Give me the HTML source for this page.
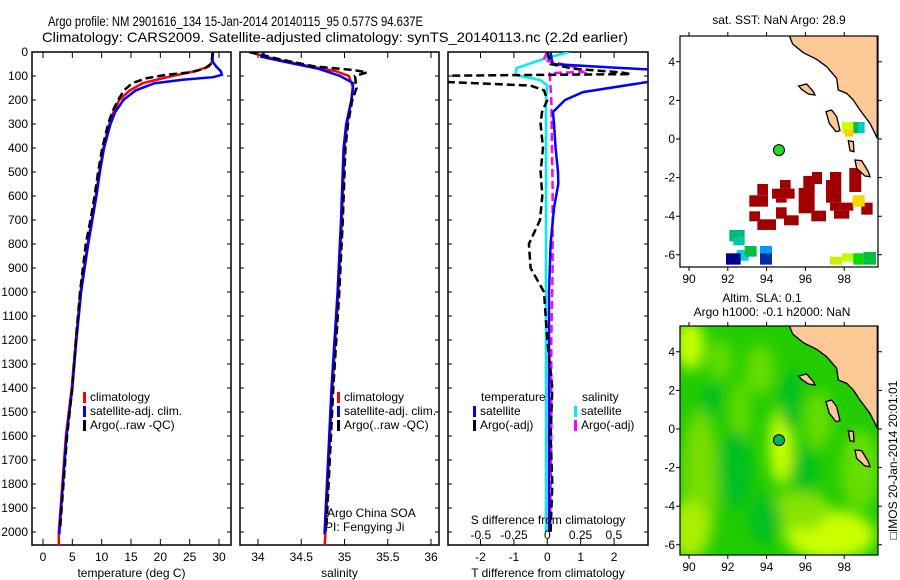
<!DOCTYPE html>
<html><head><meta charset="utf-8"><style>
body{margin:0;background:#fff;}
svg{display:block;font-family:"Liberation Sans",sans-serif;}
text{font-size:12px;fill:#000;}
</style></head><body>
<svg id="fig" width="900" height="580" viewBox="0 0 900 580">
<defs>
<clipPath id="c1"><rect x="32" y="52" width="199" height="493"/></clipPath>
<clipPath id="c2"><rect x="240" y="52" width="199" height="493"/></clipPath>
<clipPath id="c3"><rect x="448" y="52" width="200" height="493"/></clipPath>
<clipPath id="cm"><rect x="680" y="36" width="198" height="231"/></clipPath>
<clipPath id="cm2"><rect x="680" y="326" width="198" height="229"/></clipPath>
<filter id="blur"><feGaussianBlur stdDeviation="7"/></filter>
</defs>
<text x="48" y="26" textLength="375" lengthAdjust="spacingAndGlyphs" style="font-size:14px">Argo profile: NM 2901616_134 15-Jan-2014 20140115_95 0.577S 94.637E</text>
<text x="42" y="42" textLength="586" lengthAdjust="spacingAndGlyphs" style="font-size:14px">Climatology: CARS2009. Satellite-adjusted climatology: synTS_20140113.nc (2.2d earlier)</text>
<g id="g1"></g>
<g id="g2"></g>
<g id="g3"></g>
<g id="gm1"></g>
<g id="gm2"></g>
<text transform="translate(897,460) rotate(-90)" text-anchor="middle">□IMOS 20-Jan-2014 20:01:01</text>
</svg>
<script>
const depthTicks=[0,100,200,300,400,500,600,700,800,900,1000,1100,1200,1300,1400,1500,1600,1700,1800,1900,2000];
const tempTicks=[0,5,10,15,20,25,30];
const salTicks=[34,34.5,35,35.5,36];
const dtTicks=[-2,-1,0,1,2];
const dsTicks=[-0.5,-0.25,0,0.25,0.5];
const dsTickLabels=["-0.5","-0.25","0","0.25","0.5"];
// temperature profiles [depth, value]
const tClimD=[0,40,60,80,100,130,160,200,250,300,400,500,600,700,800,1000,1200,1400,1600,1800,2000,2060];
const tClimV=[28.9,28.8,28.3,26,22,17,14.8,13,12,11.3,10.3,9.6,9,8.3,7.6,6.4,5.6,4.9,3.9,3.3,2.7,2.7];
const tSatD=[0,40,60,80,95,105,115,130,160,200,250,300,400,500,600,700,800,1000,1200,1400,1600,1800,2000,2010];
const tSatV=[28.9,28.9,29.5,30.3,30.5,29,24,19,15.8,13.7,12.3,11.5,10.4,9.7,9.1,8.4,7.7,6.5,5.7,5.0,4.0,3.4,2.8,2.8];
const tArgoD=[0,50,70,85,95,110,130,160,200,250,300,400,500,600,700,800,1000,1200,1400,1600,1800,1990];
const tArgoV=[29,28.6,27.5,25,21,17.5,15.2,13.8,12.8,11.8,11.1,10.1,9.4,8.8,8.1,7.3,6.3,5.6,5.0,4.1,3.5,2.9];
// salinity profiles
const sClimD=[0,30,60,80,100,150,200,300,400,700,1000,1400,1700,2000,2060];
const sClimV=[33.9,34.2,34.6,34.9,35.05,35.1,35.08,35.03,35.0,34.97,34.93,34.86,34.82,34.78,34.77];
const sSatD=[0,20,40,70,100,130,200,300,400,700,1000,1400,1700,2000,2010];
const sSatV=[34.07,34.04,34.3,34.7,34.95,35.1,35.08,35.02,34.99,34.96,34.92,34.85,34.81,34.77,34.77];
const sArgoD=[0,30,60,75,85,100,150,200,300,400,700,1000,1400,1700,1990];
const sArgoV=[33.9,34.25,34.65,35.1,35.26,35.12,35.14,35.09,35.04,35.01,34.98,34.94,34.87,34.83,34.79];
// differences
const dtSatD=[0,50,65,80,100,125,167,200,250,300,400,500,550,650,800,1000,1400,2000];
const dtSatV=[0.1,0.15,2,4,4,3,1.07,0.53,0.17,0.2,0.25,0.32,0.33,0.2,0.1,0.05,0.05,0.05];
const dtArgoD=[0,50,70,85,92,100,118,125,140,160,200,250,300,400,500,600,700,800,900,1000,1200,1400,1600,1800,2000];
const dtArgoV=[0,0.1,0.8,2.2,2.5,-4,-4,-3,-0.5,-0.1,0,-0.16,-0.2,-0.13,-0.2,-0.15,-0.22,-0.55,-0.5,-0.1,0,0.15,0.1,0.15,0.1];
const dsSatD=[0,33,67,96,117,140,200,500,1000,1500,2000];
const dsSatV=[0.16,-0.05,-0.23,-0.24,-0.05,0,-0.01,-0.01,-0.01,-0.01,-0.01];
const dsArgoD=[0,33,62,83,88,110,200,560,700,900,1200,1600,2000];
const dsArgoV=[0,-0.03,0.2,0.27,0.02,0.02,0.03,0.04,0.04,0.04,0.03,0.03,0.02];
const lonTicks=[90,92,94,96,98];
const latTicks=[4,2,0,-2,-4,-6];

const NS="http://www.w3.org/2000/svg";
function mk(tag,attrs,parent,txt){const e=document.createElementNS(NS,tag);for(const k in attrs)e.setAttribute(k,attrs[k]);if(txt!==undefined)e.textContent=txt;parent.appendChild(e);return e;}
const yD=d=>52+d*0.24;
const xT=t=>43+t*5.867;
const xS=s=>258+(s-34)*86.5;
const xDT=v=>547.3+v*33.4;
const xDS=v=>547.3+v*133;
const mx=lon=>689+(lon-90)*19.4;
const my=lat=>139-lat*19.3;

function panel(g,x0,w,ticks,fx,labels,title,leftLabels){
  const r=mk('rect',{x:x0,y:52,width:w,height:493,fill:'none',stroke:'#000','stroke-width':1.5},g);
  
  ticks.forEach((t,i)=>{const x=fx(t);
    const tk=mk('path',{d:`M${x},545v-6M${x},52v6`,stroke:'#000','stroke-width':1},g);
    
    const tl=mk('text',{x:x,y:561,'text-anchor':'middle'},g,labels?labels[i]:String(t));
    });
  const tt=mk('text',{x:x0+w/2,y:577,'text-anchor':'middle'},g,title);
  
  depthTicks.forEach(d=>{const y=yD(d);
    const tk=mk('path',{d:`M${x0},${y}h4M${x0+w},${y}h-4`,stroke:'#000','stroke-width':1},g);
    
    if(leftLabels){const tl=mk('text',{x:28,y:y+4,'text-anchor':'end'},g,String(d));
      }});
}
function line(g,D,V,fx,color,dash,clip,name){
  const pts=D.map((d,i)=>fx(V[i]).toFixed(1)+','+yD(d).toFixed(1)).join(' ');
  const p=mk('polyline',{points:pts,fill:'none',stroke:color,'stroke-width':2.5,'stroke-dasharray':dash||'none','clip-path':`url(#${clip})`},g);
  
  
}
function legend(g,x,y,color,label){
  const b=mk('rect',{x:x,y:y-9,width:3,height:11,fill:color},g);
  
  const t=mk('text',{x:x+7,y:y},g,label);
  
}
const g1=document.getElementById('g1'),g2=document.getElementById('g2'),g3=document.getElementById('g3');
panel(g1,32,199,tempTicks,xT,null,'temperature (deg C)',true);
line(g1,tClimD,tClimV,xT,'#f00',null,'c1','temp-climatology-line');
line(g1,tSatD,tSatV,xT,'#00f',null,'c1','temp-satellite-line');
line(g1,tArgoD,tArgoV,xT,'#000','8,4','c1','temp-argo-line');
legend(g1,83,401,'#f00','climatology');legend(g1,83,415,'#00f','satellite-adj. clim.');legend(g1,83,429,'#000','Argo(..raw -QC)');

panel(g2,240,199,salTicks,xS,null,'salinity',false);
line(g2,sClimD,sClimV,xS,'#f00',null,'c2','sal-climatology-line');
line(g2,sSatD,sSatV,xS,'#00f',null,'c2','sal-satellite-line');
line(g2,sArgoD,sArgoV,xS,'#000','8,4','c2','sal-argo-line');
legend(g2,337,401,'#f00','climatology');legend(g2,337,415,'#00f','satellite-adj. clim.');legend(g2,337,429,'#000','Argo(..raw -QC)');
let t=mk('text',{x:327,y:517},g2,'Argo China SOA');
t=mk('text',{x:325,y:531},g2,'PI: Fengying Ji');

panel(g3,448,200,dtTicks,xDT,null,'T difference from climatology',false);
line(g3,dsSatD,dsSatV,xDS,'#0ee',null,'c3','sal-diff-satellite-line');
line(g3,dsArgoD,dsArgoV,xDS,'#f0f','8,4','c3','sal-diff-argo-line');
line(g3,dtSatD,dtSatV,xDT,'#00f',null,'c3','temp-diff-satellite-line');
line(g3,dtArgoD,dtArgoV,xDT,'#000','8,4','c3','temp-diff-argo-line');
t=mk('text',{x:548,y:524,'text-anchor':'middle'},g3,'S difference from climatology');
dsTicks.forEach((v,i)=>{const l=mk('text',{x:xDS(v),y:539,'text-anchor':'middle'},g3,dsTickLabels[i]);});
t=mk('text',{x:481,y:401},g3,'temperature');
t=mk('text',{x:582,y:401},g3,'salinity');
legend(g3,473,415,'#00f','satellite');legend(g3,473,429,'#000','Argo(-adj)');
legend(g3,574,415,'#0ee','satellite');legend(g3,574,429,'#f0f','Argo(-adj)');

// maps
const land="M448,107 L458,132 L490,158 L530,178 L560,200 L590,235 L595,270 L620,280 L640,300 L660,330 L690,370 L712,415 L712,107 Z";
const islands=["M476,258 L500,252 L520,275 L525,285 L505,282 L485,268 Z","M558,335 L575,330 L590,350 L600,392 L588,395 L568,370 Z","M625,422 L640,425 L642,455 L630,452 Z","M645,480 L665,482 L685,515 L690,530 L675,528 L650,505 Z"];
const sstCells=[[328,586,384,620,'#a00000'],[352,552,384,586,'#a00000'],[396,566,464,596,'#a00000'],[420,540,452,566,'#a00000'],[408,596,440,608,'#a00000'],[328,634,360,664,'#a00000'],[352,658,408,690,'#a00000'],[408,622,440,656,'#a00000'],[432,646,476,676,'#a00000'],[476,564,524,640,'#a00000'],[490,528,524,564,'#a00000'],[516,516,546,552,'#a00000'],[514,632,558,664,'#a00000'],[558,540,604,608,'#a00000'],[570,516,604,540,'#a00000'],[570,608,640,632,'#a00000'],[582,632,628,656,'#a00000'],[628,504,664,576,'#a00000'],[664,608,698,644,'#a00000'],[638,586,674,620,'#f8d800'],[268,690,314,724,'#00b878'],[280,710,314,736,'#00c8a0'],[290,750,326,782,'#00d0e0'],[314,738,350,770,'#00c040'],[258,760,302,794,'#000090'],[360,738,396,760,'#0099ff'],[360,760,396,794,'#0030a0'],[570,770,606,794,'#ccee00'],[606,760,640,784,'#bbff00'],[640,760,670,794,'#00dd00'],[670,756,708,794,'#00c040'],[606,366,640,400,'#ccff00'],[640,366,654,400,'#00bb44'],[654,366,674,400,'#00cccc'],[614,388,640,410,'#ffcc00']];
function mapFrame(g,top,h,lab0){
  const r=mk('rect',{x:680,y:top,width:198,height:h,fill:'none',stroke:'#000','stroke-width':1.2},g);
  
  lonTicks.forEach(l=>{const x=mx(l);mk('path',{d:`M${x},${top+h}v4M${x},${top}v-4`,stroke:'#000'},g);
    const tl=mk('text',{x:x,y:top+h+16,'text-anchor':'middle'},g,String(l));});
  latTicks.forEach(l=>{const y=my(l)+lab0;mk('path',{d:`M680,${y}h-4M878,${y}h4`,stroke:'#000'},g);
    const tl=mk('text',{x:675,y:y+4,'text-anchor':'end'},g,String(l));});
}
function drawLand(g,dy,clip){
  const outer=mk('g',{'clip-path':`url(#${clip})`},g);
  const lg=mk('g',{transform:`translate(640,${dy}) scale(0.3333)`},outer);
  const p=mk('path',{d:land,fill:'#fcc896',stroke:'#000','stroke-width':4},lg);
  islands.forEach(d=>{const i=mk('path',{d:d,fill:'#fcc896',stroke:'#000','stroke-width':4},lg);});
  return lg;
}
const gm1=document.getElementById('gm1');
let mt=mk('text',{x:779,y:24,'text-anchor':'middle'},gm1,'sat. SST: NaN Argo: 28.9');
const cgo=mk('g',{'clip-path':'url(#cm)'},gm1);
const cg=mk('g',{transform:'translate(640,0) scale(0.3333)'},cgo);
sstCells.forEach(c=>{const r=mk('rect',{x:c[0],y:c[1],width:c[2]-c[0],height:c[3]-c[1],fill:c[4]},cg);});
drawLand(gm1,0,'cm');
mapFrame(gm1,36,231,0);
let dot=mk('circle',{cx:mx(94.637),cy:my(-0.577),r:5.5,fill:'#22dd22',stroke:'#000'},gm1);

const gm2=document.getElementById('gm2');
mt=mk('text',{x:762,y:302,'text-anchor':'middle'},gm2,'Altim. SLA: 0.1');
mt=mk('text',{x:772,y:316,'text-anchor':'middle'},gm2,'Argo h1000: -0.1 h2000: NaN');
const fg=mk('g',{'clip-path':'url(#cm2)'},gm2);
mk('rect',{x:680,y:326,width:198,height:229,fill:'#22cc00'},fg);
const bl=mk('g',{filter:'url(#blur)'},fg);
[[690,345,14,25,'#ccff00'],[700,480,18,70,'#77dd00'],[690,530,20,30,'#aaee00'],[781,445,12,40,'#ccff00'],[830,535,45,25,'#ccff00'],[800,510,30,20,'#88e400'],[760,370,15,25,'#66dd00'],[740,420,10,40,'#66dd00'],[860,470,20,40,'#66dd00'],[818,420,14,30,'#66dd00'],[720,360,12,20,'#66dd00']].forEach(e=>mk('ellipse',{cx:e[0],cy:e[1],rx:e[2],ry:e[3],fill:e[4]},bl));
[[735,470,18,40],[790,400,12,30],[805,470,12,25],[765,520,16,25],[712,400,10,20]].forEach(e=>mk('ellipse',{cx:e[0],cy:e[1],rx:e[2],ry:e[3],fill:'#00c020'},bl));
drawLand(gm2,290,'cm2');
mapFrame(gm2,326,229,290);
dot=mk('circle',{cx:mx(94.637),cy:my(-0.577)+290,r:5.5,fill:'#00b060',stroke:'#000'},gm2);
</script>
</body></html>
